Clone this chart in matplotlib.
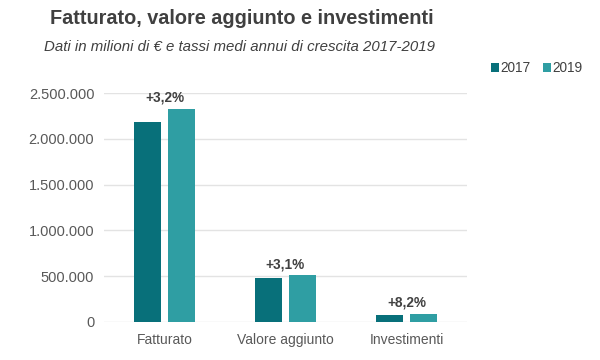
import matplotlib.pyplot as plt
import numpy as np

categories = ["Fatturato", "Valore aggiunto", "Investimenti"]
values_2017 = [2187000, 477000, 73000]
values_2019 = [2329000, 510000, 91000]
growth = ["+3,2%", "+3,1%", "+8,2%"]
y_ticks = [0, 500000, 1000000, 1500000, 2000000, 2500000]

col_2017 = "#08707a"
col_2019 = "#2f9ea3"
text_col = "#404040"

plt.rcParams['font.family'] = ['Liberation Sans', 'DejaVu Sans']

fig = plt.figure(figsize=(6, 3.6), dpi=100)
ax = fig.add_axes([0.1733, 0.1056, 0.605, 0.636])

x = np.arange(len(categories))
w = 0.223
off = 0.14
ax.bar(x - off, values_2017, w, color=col_2017, label="2017", zorder=3)
ax.bar(x + off, values_2019, w, color=col_2019, label="2019", zorder=3)

for i, g in enumerate(growth):
    top = max(values_2017[i], values_2019[i])
    ax.annotate(g, (x[i], top), xytext=(0, 3), textcoords="offset points",
                ha="center", va="bottom", fontsize=9.8, fontweight="bold",
                color=text_col)

ax.set_xlim(-0.5, 2.5)
ax.set_ylim(0, 2500000)
ax.set_yticks(y_ticks)
ax.set_yticklabels([f"{v:,}".replace(",", ".") for v in y_ticks])
ax.set_xticks(x)
ax.set_xticklabels(categories)
ax.tick_params(axis="x", length=0, labelsize=10, colors="#595959", pad=8)
ax.tick_params(axis="y", length=0, labelsize=10.5, colors="#595959", pad=7)
ax.grid(axis="y", color="#e3e3e3", linewidth=1, zorder=0)
for s in ax.spines.values():
    s.set_visible(False)

fig.text(0.083, 0.948, "Fatturato, valore aggiunto e investimenti",
         fontsize=14.3, fontweight="bold", color=text_col, va="center")
fig.text(0.073, 0.87, "Dati in milioni di € e tassi medi annui di crescita 2017-2019",
         fontsize=10.8, style="italic", color=text_col, va="center")

fig.legend(loc="center right", bbox_to_anchor=(0.985, 0.81), ncol=2, frameon=False,
           fontsize=9.8, handlelength=0.55, handleheight=0.55, handletextpad=0.15,
           columnspacing=0.9, labelcolor="#404040", borderaxespad=0.2)

fig.savefig("out.png", dpi=100)
